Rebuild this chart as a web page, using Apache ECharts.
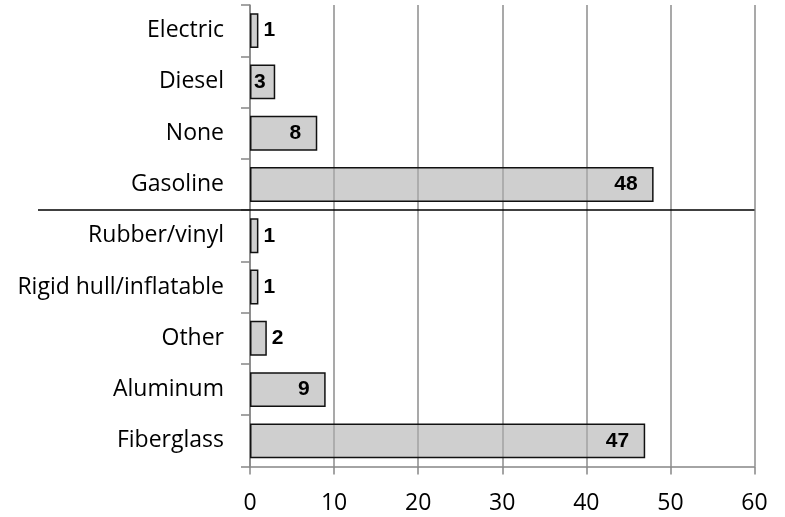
<!DOCTYPE html>
<html>
<head>
<meta charset="utf-8">
<script src="https://cdn.jsdelivr.net/npm/echarts@6/dist/echarts.min.js"></script>
<style>html,body{margin:0;padding:0;background:#fff}#c{width:785px;height:517px}</style>
</head>
<body>
<div id="c"></div>
<script>
const categories = ["Electric", "Diesel", "None", "Gasoline", "Rubber/vinyl", "Rigid hull/inflatable", "Other", "Aluminum", "Fiberglass"];
const values = [1, 3, 8, 48, 1, 1, 2, 9, 47];
const xTicks = [0, 10, 20, 30, 40, 50, 60];
const separatorAfter = "Gasoline";

const chart = echarts.init(document.getElementById('c'));

const dataItems = values.map(v => {
  let label;
  if (v <= 2) label = {position: 'right', distance: 5};
  else if (v < 5) label = {position: 'insideLeft', distance: 4};
  else label = {position: 'insideRight', distance: 16};
  return {value: v, label: label};
});

chart.setOption({
  animation: false,
  grid: {left: 250, right: 30.5, top: 5, bottom: 50.5, containLabel: false},
  xAxis: {
    type: 'value',
    min: xTicks[0], max: xTicks[xTicks.length - 1], interval: xTicks[1] - xTicks[0],
    axisLine: {show: true, lineStyle: {color: '#868686', width: 1.5}},
    axisTick: {show: true, length: 8, lineStyle: {color: '#868686', width: 1.5}},
    splitLine: {show: true, lineStyle: {color: '#8c8c8c', width: 1.5}},
    axisLabel: {color: '#000', fontFamily: 'Open Sans', fontSize: 23, margin: 25}
  },
  yAxis: {
    type: 'category',
    data: categories,
    inverse: true,
    axisLine: {show: true, lineStyle: {color: '#868686', width: 1.5}},
    axisTick: {show: true, length: 9, lineStyle: {color: '#868686', width: 1.5}},
    axisLabel: {color: '#000', fontFamily: 'Open Sans', fontSize: 23, margin: 26, padding: [4, 0, 0, 0]}
  },
  series: [{
    type: 'bar',
    data: dataItems,
    barWidth: '68%',
    itemStyle: {color: 'rgba(175,175,175,0.6)', borderColor: '#111', borderWidth: 1.5},
    label: {show: true, color: '#000', fontFamily: 'Liberation Sans, Arial', fontWeight: 'bold', fontSize: 21},
    z: 3
  }]
});

// separator line between groups
const idx = categories.indexOf(separatorAfter);
const y1 = chart.convertToPixel({yAxisIndex: 0}, categories[idx]);
const y2 = chart.convertToPixel({yAxisIndex: 0}, categories[idx + 1]);
const yb = (y1 + y2) / 2;
const xr = chart.convertToPixel({xAxisIndex: 0}, xTicks[xTicks.length - 1]);
chart.setOption({
  graphic: [{
    type: 'line',
    shape: {x1: 38, y1: yb, x2: xr, y2: yb},
    style: {stroke: '#000', lineWidth: 1.5},
    z: 10
  }]
});
</script>
</body>
</html>
